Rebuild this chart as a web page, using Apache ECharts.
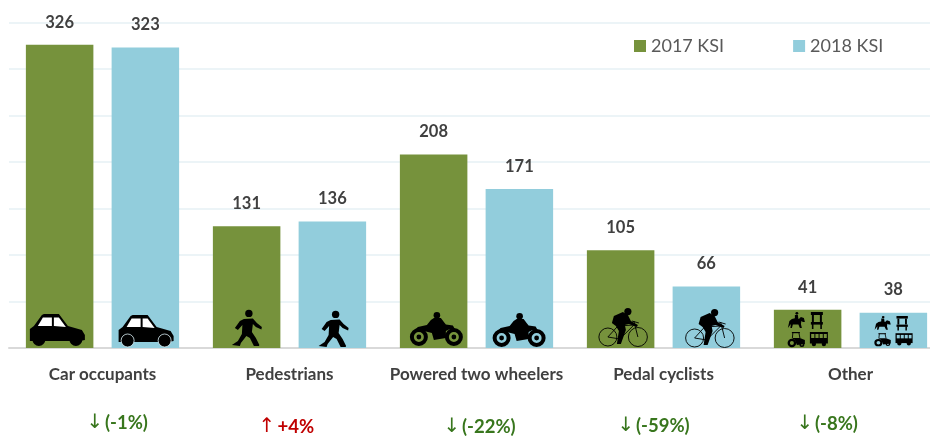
<!DOCTYPE html>
<html><head><meta charset="utf-8">
<style>html,body{margin:0;padding:0;background:#fff;overflow:hidden;width:930px;height:436px}#c{width:944px;height:436px}</style>
<script src="https://cdn.jsdelivr.net/npm/echarts@6/dist/echarts.min.js"></script>
</head><body><div id="c"></div>
<script>
const categories = ['Car occupants','Pedestrians','Powered two wheelers','Pedal cyclists','Other'];
const ksi2017 = [326,131,208,105,41];
const ksi2018 = [323,136,171,66,38];
const changeArrows = ['↓','↑','↓','↓','↓'];
const changeTexts = ['(-1%)','+4%','(-22%)','(-59%)','(-8%)'];
const changeDown = [true,false,true,true,true];
const changeDx = [-16,-31,-33,-46,-54];
const changeY = [423,427,427,426,424];
const GREEN='#76923c', BLUE='#92cddc';

// icon pieces: local pixel coordinates, 'bar' = colour of the bar behind
const car=[
 {p:[[0,15],[4,12],[12,1],[14,0],[29,0],[38,12],[52,16],[55,21],[55,26],[50,27],[0,27]]},
 {p:[[8,12],[13,3.5],[22,3.5],[22,12]],f:'#fff'},{p:[[24,3.5],[29,3.5],[36,13],[24,12]],f:'#fff'},
 {c:[9,25.5,6.5],o:1},{c:[46,25.5,6.5],o:1}];
const ped=[
 {c:[17,3.4,3.7]},
 {p:[[12,9],[21,8.5],[25,13],[30,17],[29.5,19.5],[24,17],[21,14],[20,22],[24,28],[27.5,35],[27,36],[22,36],[18,28],[14.5,26],[9,33],[8,36],[0,35],[6,31],[10,24],[10.5,15],[6,20],[3,18],[8,11]]}];
const moto=[
 {r:[9,25,9,5]},{r:[44,25,9,5]},{c:[9,25,2.4]},{c:[44,25,2.4]},
 {c:[27,3.3,3.3]},
 {p:[[3,20],[8,15],[17,13],[21,8],[24,6],[31,6],[34,10],[36,12.5],[43,13.5],[45,17],[39,17.5],[36,19],[36,26],[24,28],[22,21],[14,19]]}];
const bike=[
 {w:[10,29,9]},{w:[40,29,9.5]},
 {l:[[10,29],[22,31],[36,17],[20,18],[10,29]]},{l:[[36,13],[40,29]]},{l:[[34,13],[41,15]]},
 {c:[30,3.6,3.6]},
 {p:[[14,15],[16,8],[25,4],[30,7],[33,13],[40,17],[39,19],[31,16],[27,17],[28,22],[23,36],[19,36],[21,23],[18,18]]}];
const other=[
 // horse and rider
 {c:[9,1.3,1.4]},{p:[[7,3],[10,3],[10.5,7],[7,7]]},
 {p:[[0,16],[1.5,9],[4,7],[8,6],[11,7],[13,5],[16,6],[17,10],[15,10],[13.5,9],[13,12],[14,16],[12,16],[10.5,12.5],[5,12.5],[4,16],[2.5,16],[3,12]]},
 // bench
 {b:[23,0,12,3]},{b:[24,3,2,7]},{b:[32,3,2,7]},{b:[23,10,12,2.6]},{b:[24,12,1.6,5]},{b:[32.4,12,1.6,5]},
 // tractor
 {b:[4,20,8,1.2]},{l:[[5,20.5],[4.5,26]]},{l:[[11,20.5],[12,26]]},
 {p:[[4,26],[12,26],[17,28],[17,32],[9,33],[7,28]]},{r:[4,31,4.3,2]},{r:[14,32.5,2.5,1]},
 // bus
 {b:[22,20,18,11.5]},{b:[23.3,22,3.2,4],f:'bar'},{b:[27.5,22,3.2,4],f:'bar'},{b:[31.7,22,3.2,4],f:'bar'},{b:[35.9,22,3,4],f:'bar'},
 {c:[26,32,2.2]},{c:[36,32,2.2]}];
const icons=[car,ped,moto,bike,other];
// per [category][series]: offset from bar left, top above axis, scaleX, scaleY
const iconPlace=[
 [[4,-34,1,1],[7,-33,1,1]],
 [[19,-38,1,1],[20,-37,1,1]],
 [[10,-36,1,1],[7,-35,1,1]],
 [[11,-40,1,1],[12,-39,1,1]],
 [[14,-36,1,1],[15,-32,.95,.86]]];

function piece(s,barColor,outline){
 const fill=s.f==='bar'?barColor:(s.f||'#000');
 if(s.p) return {type:'polygon',shape:{points:s.p},style:{fill}};
 if(s.c) return {type:'circle',shape:{cx:s.c[0],cy:s.c[1],r:s.c[2]},style:s.o&&outline?{fill,stroke:'#d8eef4',lineWidth:.8}:{fill}};
 if(s.r) return {type:'ring',shape:{cx:s.r[0],cy:s.r[1],r:s.r[2],r0:s.r[3]},style:{fill}};
 if(s.b) return {type:'rect',shape:{x:s.b[0],y:s.b[1],width:s.b[2],height:s.b[3]},style:{fill}};
 if(s.w) return {type:'circle',shape:{cx:s.w[0],cy:s.w[1],r:s.w[2]},style:{fill:'none',stroke:'#000',lineWidth:.9}};
 if(s.l) return {type:'polyline',shape:{points:s.l},style:{fill:'none',stroke:'#000',lineWidth:.9}};
}
const iconData=[];
categories.forEach((c,i)=>{iconData.push([i,0]);iconData.push([i,1]);});

const chart=echarts.init(document.getElementById('c'),null,{renderer:'canvas'});
const labelCfg={show:true,position:'top',distance:14,fontFamily:'Lato',fontWeight:'bold',fontSize:16.5,color:'#404040'};
chart.setOption({
 animation:false,
 grid:{left:9,right:0,top:22.5,bottom:88,containLabel:false},
 legend:{left:634,top:37,padding:0,itemWidth:12,itemHeight:12,itemGap:69,icon:'rect',data:['2017 KSI','2018 KSI'],
  textStyle:{fontFamily:'Lato',fontSize:18,color:'#595959'}},
 xAxis:{type:'category',data:categories,axisTick:{show:false},
  axisLine:{lineStyle:{color:'#d9d9d9',width:2}},
  axisLabel:{fontFamily:'Lato',fontWeight:'bold',fontSize:17,color:'#404040',margin:18,interval:0}},
 yAxis:{type:'value',min:0,max:350,interval:50,axisLabel:{show:false},axisLine:{show:false},axisTick:{show:false},
  splitLine:{lineStyle:{color:'#e6f0f4',width:1.5}}},
 series:[
  {name:'2017 KSI',type:'bar',data:ksi2017,barWidth:'36.1%',barGap:'27%',itemStyle:{color:GREEN},label:labelCfg},
  {name:'2018 KSI',type:'bar',data:ksi2018,barWidth:'36.1%',itemStyle:{color:BLUE},label:labelCfg},
  {name:'icons',type:'custom',data:iconData,z:5,silent:true,clip:false,encode:{x:0,y:1},
   renderItem(params,api){
    const cat=api.value(0),ser=api.value(1);
    const band=api.size([1,0])[0];
    const base=api.coord([cat,0]);
    const barW=band*.361,gap=barW*.27;
    const left=base[0]+(ser===0?-gap/2-barW:gap/2);
    const pl=iconPlace[cat][ser];
    const col=ser===0?GREEN:BLUE;
    return {type:'group',x:left+pl[0],y:base[1]+pl[1],scaleX:pl[2],scaleY:pl[3],
     children:icons[cat].map(s=>piece(s,col,ser===1))};
   }},
  {name:'change',type:'custom',data:categories.map((c,i)=>[i,0]),z:5,silent:true,clip:false,encode:{x:0,y:1},
   renderItem(params,api){
    const i=api.value(0);
    const x=api.coord([i,0])[0]+changeDx[i],y=changeY[i];
    const col=changeDown[i]?'#38761d':'#c00000';
    return {type:'group',children:[
     {type:'text',x:x,y:y,style:{text:changeArrows[i],fill:col,fontFamily:'DejaVu Sans',fontSize:20,verticalAlign:'middle',align:'left'}},
     {type:'text',x:x+(i===1?19:18.5),y:y,style:{text:changeTexts[i],fill:col,fontFamily:'Lato',fontWeight:'bold',fontSize:18.5,verticalAlign:'middle',align:'left'}}
    ]};
   }}
 ]
});
</script></body></html>
